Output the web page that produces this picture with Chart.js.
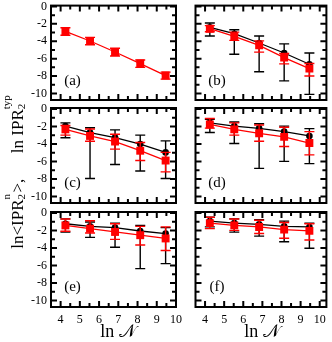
<!DOCTYPE html>
<html><head><meta charset="utf-8">
<script src="https://cdn.jsdelivr.net/npm/chart.js@4.4.0/dist/chart.umd.min.js"></script>
<style>
html,body{margin:0;padding:0;background:#fff;}
#wrap{position:relative;width:332px;height:342px;overflow:hidden;font-family:'Liberation Serif','Times New Roman',serif;color:#000;}
canvas{position:absolute;left:0;top:0;}
.ytitle{position:absolute;left:16px;top:171px;width:240px;height:20px;margin-left:-120px;margin-top:-10px;text-align:center;transform:rotate(-90deg);white-space:nowrap;font-size:17px;line-height:20px;}
.ss{display:inline-block;position:relative;height:1em;vertical-align:baseline;}
.ss .sup,.ss .sub{position:absolute;left:0;font-size:11px;line-height:11px;}
.ss .sup{top:-5px;}
.ss .sub{top:10px;}
.xt{position:absolute;top:331px;transform:translate(-50%,-50%);font-size:18px;white-space:nowrap;}
</style></head>
<body>
<div id="wrap">
<canvas id="c0" width="332" height="342"></canvas>
<canvas id="c1" width="332" height="342"></canvas>
<canvas id="c2" width="332" height="342"></canvas>
<canvas id="c3" width="332" height="342"></canvas>
<canvas id="c4" width="332" height="342"></canvas>
<canvas id="c5" width="332" height="342"></canvas>
<div class="ytitle">ln&lt;IPR<span class="ss" style="width:7px"><span class="sup">n</span><span class="sub">2</span></span>&gt;,&nbsp;&nbsp;&nbsp;&nbsp;&nbsp; ln IPR<span class="ss" style="width:16px"><span class="sup">typ</span><span class="sub">2</span></span></div>
<div class="xt" style="left:118px">ln 𝒩</div>
<div class="xt" style="left:262px">ln 𝒩</div>
</div>
<script>
// ---- data ----
const lnN = [4.25, 5.53, 6.83, 8.14, 9.46];
const xTicks = [4, 5, 6, 7, 8, 9, 10];
const yTicks = [0, -2, -4, -6, -8, -10];
const panelLabels = ['(a)', '(b)', '(c)', '(d)', '(e)', '(f)'];

// red squares: ln<IPR_2^n> ; black circles: ln IPR_2^typ
const redA   = [-2.86, -3.97, -5.23, -6.56, -7.94];
const redALo = [-3.30, -4.40, -5.70, -7.00, -8.35];
const redAHi = [-2.45, -3.55, -4.80, -6.15, -7.55];

const redB   = [-2.56, -3.44, -4.47, -5.88, -7.14];
const redBLo = [-2.90, -3.90, -5.25, -6.60, -8.00];
const redBHi = [-2.20, -2.95, -3.95, -5.40, -6.55];
const blkB   = [-2.40, -3.13, -4.20, -5.35, -6.64];
const blkBLo = [-3.40, -5.50, -7.50, -8.55, -10.1];
const blkBHi = [-1.90, -2.67, -3.40, -4.30, -5.35];

const redC   = [-2.34, -3.09, -3.73, -4.78, -5.90];
const redCLo = [-3.00, -3.70, -4.60, -5.90, -7.20];
const redCHi = [-1.90, -2.30, -2.90, -3.84, -4.97];
const blkC   = [-1.97, -2.70, -3.28, -4.02, -4.97];
const blkCLo = [-3.30, -7.95, -6.35, -7.10, -7.95];
const blkCHi = [-1.60, -2.15, -2.40, -3.00, -3.65];

const redD   = [-1.78, -2.34, -2.79, -3.20, -3.90];
const redDLo = [-2.20, -3.00, -3.70, -4.30, -5.25];
const redDHi = [-1.10, -1.60, -1.85, -2.10, -2.60];
const blkD   = [-1.60, -1.97, -2.22, -2.60, -3.09];
const blkDLo = [-2.70, -3.95, -6.80, -6.00, -6.25];
const blkDHi = [-1.20, -1.50, -1.70, -1.97, -2.26];

const redE   = [-1.43, -1.80, -2.18, -2.55, -2.92];
const redELo = [-2.10, -2.30, -3.03, -3.67, -4.30];
const redEHi = [-0.70, -0.90, -1.24, -1.54, -1.60];
const blkE   = [-1.24, -1.54, -1.69, -2.07, -2.36];
const blkELo = [-2.20, -2.80, -3.93, -6.37, -5.80];
const blkEHi = [-0.68, -1.05, -1.17, -1.43, -1.69];

const redF   = [-1.17, -1.43, -1.61, -1.91, -2.06];
const redFLo = [-1.80, -2.00, -2.35, -2.90, -3.10];
const redFHi = [-0.50, -0.70, -0.85, -1.10, -1.24];
const blkF   = [-0.94, -1.17, -1.31, -1.54, -1.61];
const blkFLo = [-1.60, -2.20, -2.66, -3.30, -4.04];
const blkFHi = [-0.50, -0.68, -0.79, -0.94, -1.17];

// ---- layout ----
const W = 332, H = 342;
const cols = [{left: 51, right: 176, xmax: 10.0}, {left: 195.5, right: 327, xmax: 10.35}];
const rows = [{top: 5, bottom: 100}, {top: 108, bottom: 203}, {top: 212, bottom: 307}];
const YMIN = -10.75, YMAX = 0.1, XMIN = 3.5;

const panels = [
  {red: [redA, redALo, redAHi], blk: null},
  {red: [redB, redBLo, redBHi], blk: [blkB, blkBLo, blkBHi]},
  {red: [redC, redCLo, redCHi], blk: [blkC, blkCLo, blkCHi]},
  {red: [redD, redDLo, redDHi], blk: [blkD, blkDLo, blkDHi]},
  {red: [redE, redELo, redEHi], blk: [blkE, blkELo, blkEHi]},
  {red: [redF, redFLo, redFHi], blk: [blkF, blkFLo, blkFHi]},
];

Chart.defaults.font.family = "'Liberation Serif', 'Times New Roman', serif";
Chart.defaults.font.size = 12;
Chart.defaults.color = '#000';

const errBars = {
  id: 'errBars',
  beforeDatasetDraw(chart, args) {
    const ds = chart.data.datasets[args.index];
    if (!ds.errLo) return;
    const {ctx, scales: {x, y}} = chart;
    ctx.save();
    ctx.strokeStyle = ds.borderColor;
    ctx.lineWidth = 1.4;
    ds.data.forEach((p, i) => {
      const px = x.getPixelForValue(p.x);
      const yl = y.getPixelForValue(ds.errLo[i]);
      const yh = y.getPixelForValue(ds.errHi[i]);
      ctx.beginPath();
      ctx.moveTo(px, yl); ctx.lineTo(px, yh);
      ctx.moveTo(px - 5, yl); ctx.lineTo(px + 5, yl);
      ctx.moveTo(px - 5, yh); ctx.lineTo(px + 5, yh);
      ctx.stroke();
    });
    ctx.restore();
  }
};

const frameTicks = {
  id: 'frameTicks',
  afterDraw(chart, args, opts) {
    const {ctx, chartArea: a, scales: {x, y}} = chart;
    ctx.save();
    ctx.strokeStyle = '#000';
    ctx.lineWidth = 2;
    ctx.beginPath();
    for (let k = 0; XMIN + k * 0.5 <= x.max + 1e-9; k++) {
      const v = XMIN + k * 0.5;
      if (v <= x.min + 1e-9) continue;
      const px = x.getPixelForValue(v);
      const L = (k % 2 === 1) ? 6 : 4;
      ctx.moveTo(px, a.bottom); ctx.lineTo(px, a.bottom - L);
      ctx.moveTo(px, a.top); ctx.lineTo(px, a.top + L);
    }
    for (let v = -10; v <= 0; v++) {
      const py = y.getPixelForValue(v);
      const L = (v % 2 === 0) ? 6 : 4;
      ctx.moveTo(a.left, py); ctx.lineTo(a.left + L, py);
      ctx.moveTo(a.right, py); ctx.lineTo(a.right - L, py);
    }
    ctx.stroke();
    ctx.strokeRect(a.left, a.top, a.right - a.left, a.bottom - a.top);
    ctx.fillStyle = '#000';
    ctx.font = "15px 'Liberation Serif', serif";
    ctx.textAlign = 'center';
    ctx.textBaseline = 'middle';
    ctx.fillText(opts.label, a.left + 21.5, a.top + 75);
    ctx.restore();
  }
};

function mk(vals, xs) { return vals.map((v, i) => ({x: xs[i], y: v})); }

panels.forEach((p, idx) => {
  const c = cols[idx % 2], r = rows[Math.floor(idx / 2)];
  const showY = (idx % 2 === 0), showX = (Math.floor(idx / 2) === 2);
  const yW = showY ? c.left : 0;
  const xH = showX ? 22 : 0;
  const datasets = [{
    data: mk(p.red[0], lnN), errLo: p.red[1], errHi: p.red[2],
    borderColor: '#ff0000', backgroundColor: '#ff0000', borderWidth: 1.3,
    pointStyle: 'rect', pointRadius: 5.6, pointBorderWidth: 0, showLine: true
  }];
  if (p.blk) datasets.push({
    data: mk(p.blk[0], lnN), errLo: p.blk[1], errHi: p.blk[2],
    borderColor: '#000000', backgroundColor: '#000000', borderWidth: 1.3,
    pointStyle: 'circle', pointRadius: 3.3, pointBorderWidth: 0, showLine: true
  });
  new Chart(document.getElementById('c' + idx), {
    type: 'line',
    data: {datasets},
    options: {
      responsive: false, animation: false, events: [],
      layout: {padding: {left: c.left - yW, right: W - c.right, top: r.top, bottom: H - r.bottom - xH}},
      plugins: {legend: {display: false}, tooltip: {enabled: false}, frameTicks: {label: panelLabels[idx]}},
      scales: {
        x: {
          type: 'linear', min: XMIN, max: c.xmax,
          grid: {display: false, drawTicks: false}, border: {display: false},
          ticks: {display: showX, padding: 6, font: {size: 12}, callback: v => String(v)},
          afterBuildTicks: s => { s.ticks = xTicks.map(v => ({value: v})); },
          afterFit: s => { s.height = xH; s.paddingLeft = 0; s.paddingRight = 0; s.paddingTop = 0; s.paddingBottom = 0; }
        },
        y: {
          type: 'linear', min: YMIN, max: YMAX,
          grid: {display: false, drawTicks: false}, border: {display: false},
          ticks: {display: showY, padding: 4, font: {size: 12}, callback: v => String(v)},
          afterBuildTicks: s => { s.ticks = yTicks.map(v => ({value: v})); },
          afterFit: s => { s.width = yW; s.paddingLeft = 0; s.paddingRight = 0; s.paddingTop = 0; s.paddingBottom = 0; }
        }
      }
    },
    plugins: [errBars, frameTicks]
  });
});
</script>
</body></html>
